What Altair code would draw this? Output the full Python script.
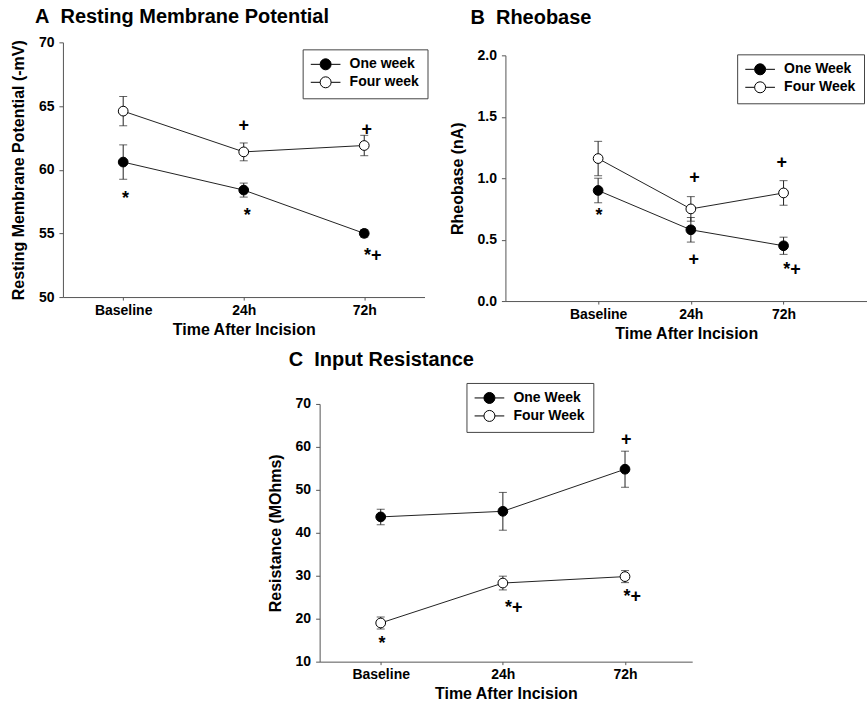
import altair as alt
import pandas as pd

FONT = "Liberation Sans"

categories = ["Baseline", "24h", "72h"]
x_index = [0, 1, 2]

# Panel A: Resting membrane potential (-mV)
a_series = ["One week", "Four week"]
a_one_mean = [60.6, 58.4, 55.0]
a_one_err = [1.35, 0.55, 0.3]
a_four_mean = [64.6, 61.4, 61.9]
a_four_err = [1.15, 0.7, 0.8]
a_ann_x = [0.02, 1.03, 2.07, 1.0, 2.02]
a_ann_y = [57.7, 56.4, 53.2, 63.4, 63.1]
a_ann_t = ["*", "*", "*+", "+", "+"]

# Panel B: Rheobase (nA)
b_series = ["One Week", "Four Week"]
b_one_mean = [0.90, 0.58, 0.45]
b_one_err = [0.10, 0.10, 0.07]
b_four_mean = [1.16, 0.75, 0.88]
b_four_err = [0.14, 0.10, 0.10]
b_ann_x = [0.01, 1.04, 1.03, 1.98, 2.09]
b_ann_y = [0.69, 1.00, 0.335, 1.127, 0.25]
b_ann_t = ["*", "+", "+", "+", "*+"]

# Panel C: Input resistance (MOhms)
c_series = ["One Week", "Four Week"]
c_one_mean = [43.7, 45.0, 54.8]
c_one_err = [1.8, 4.4, 4.2]
c_four_mean = [19.0, 28.3, 29.8]
c_four_err = [1.4, 1.6, 1.4]
c_ann_x = [0.01, 1.09, 2.06, 2.01]
c_ann_y = [14.0, 22.6, 25.1, 61.6]
c_ann_t = ["*", "*+", "*+", "+"]

label_expr = "[" + ",".join("'%s'" % c for c in categories) + "][datum.value]"

SYMBOL = "M-2.7,0L-1,0M1,0L2.7,0M1,0A1,1,0,1,1,-1,0A1,1,0,1,1,1,0Z"


def panel(series, one_m, one_e, four_m, four_e, ann_x, ann_y, ann_t,
          ydomain, yrange, yvalues, yfmt, ytitle, xdomain, width, height,
          title, title_dx, title_offset, leg_x, leg_y):
    rows = []
    for name, means, errs in ((series[0], one_m, one_e), (series[1], four_m, four_e)):
        for xi, m, e in zip(x_index, means, errs):
            rows.append({"series": name, "xi": xi, "mean": m, "lo": m - e, "hi": m + e})
    df = pd.DataFrame(rows)
    ann = pd.DataFrame({"xi": ann_x, "yv": ann_y, "t": ann_t})

    xs = alt.Scale(domain=xdomain, nice=False, zero=False)
    ys = alt.Scale(domain=ydomain, range=yrange, nice=False, zero=False)
    x = alt.X("xi:Q", scale=xs,
              axis=alt.Axis(values=x_index, labelExpr=label_expr,
                            title="Time After Incision", tickSize=3))
    y = alt.Y("mean:Q", scale=ys,
              axis=alt.Axis(values=yvalues, format=yfmt, title=ytitle, tickSize=4,
                            labelPadding=5, titlePadding=12))

    base = alt.Chart(df)
    line = base.mark_line(color="#222", strokeWidth=1).encode(x=x, y=y, detail="series:N")
    err = base.mark_rule(color="#222", strokeWidth=1).encode(
        x=x, y=alt.Y("lo:Q", scale=ys), y2="hi:Q")
    cap_lo = base.mark_tick(orient="horizontal", size=8, thickness=1, color="#222").encode(
        x=x, y=alt.Y("lo:Q", scale=ys))
    cap_hi = base.mark_tick(orient="horizontal", size=8, thickness=1, color="#222").encode(
        x=x, y=alt.Y("hi:Q", scale=ys))
    pts = base.mark_point(shape="circle", filled=True, size=95, stroke="black",
                          strokeWidth=1, opacity=1).encode(
        x=x, y=y,
        fill=alt.Fill("series:N",
                      scale=alt.Scale(domain=series, range=["black", "white"]),
                      legend=alt.Legend(title=None, orient="none", legendX=leg_x, legendY=leg_y,
                                        symbolType=SYMBOL, symbolSize=121,
                                        symbolStrokeColor="black", symbolStrokeWidth=1,
                                        symbolOffset=8, labelOffset=17,
                                        labelFont=FONT, labelFontSize=14,
                                        labelFontWeight="bold", labelColor="black",
                                        padding=8, rowPadding=2,
                                        strokeColor="#444", fillColor="white")))
    txt = alt.Chart(ann).mark_text(font=FONT, fontSize=18, fontWeight="bold",
                                   baseline="middle", color="black").encode(
        x=alt.X("xi:Q", scale=xs), y=alt.Y("yv:Q", scale=ys), text="t:N")

    return alt.layer(line, err, cap_lo, cap_hi, pts, txt).properties(
        width=width, height=height,
        title=alt.TitleParams(title, anchor="start", frame="group", dx=title_dx,
                              offset=title_offset, font=FONT, fontSize=20,
                              fontWeight="bold", color="black"))


chart_a = panel(a_series, a_one_mean, a_one_err, a_four_mean, a_four_err,
                a_ann_x, a_ann_y, a_ann_t,
                [50, 70], [255, 0], [50, 55, 60, 65, 70], "d",
                "Resting Membrane Potential (-mV)",
                [-0.5, 2.5], 362, 255, "A\u00a0\u00a0Resting Membrane Potential", -28, 8, 240, 7)
chart_b = panel(b_series, b_one_mean, b_one_err, b_four_mean, b_four_err,
                b_ann_x, b_ann_y, b_ann_t,
                [0, 2], [259, 13], [0, 0.5, 1.0, 1.5, 2.0], ".1f", "Rheobase (nA)",
                [-1.0, 2.9], 362, 259, "B\u00a0\u00a0Rheobase", -35, 14, 232, 12)
chart_c = panel(c_series, c_one_mean, c_one_err, c_four_mean, c_four_err,
                c_ann_x, c_ann_y, c_ann_t,
                [10, 70], [258, 0], [10, 20, 30, 40, 50, 60, 70], "d", "Resistance (MOhms)",
                [-0.5, 2.55], 373, 258, "C\u00a0\u00a0Input Resistance", -31, 12, 147, -21)

spacer = alt.Chart(pd.DataFrame({"a": [0]})).mark_point(opacity=0).encode(
    x=alt.value(0), y=alt.value(0)).properties(width=204, height=10)

top = alt.hconcat(chart_a, chart_b, spacing=20).resolve_scale(fill="independent")
bottom = alt.hconcat(spacer, chart_c, spacing=0).resolve_scale(fill="independent")

chart = alt.vconcat(top, bottom, spacing=9).resolve_scale(fill="independent").properties(
    padding={"left": 10, "top": 7, "right": 0, "bottom": 0}
).configure_view(stroke=None).configure_axis(
    grid=False, domainColor="#555", tickColor="#555", labelColor="black",
    titleColor="black", labelFont=FONT, titleFont=FONT, labelFontSize=14,
    titleFontSize=16, labelFontWeight="bold", titleFontWeight="bold",
    labelPadding=2, titlePadding=6
).configure_axisX(labelPadding=3, titlePadding=4)

chart.save("out.html", embed_options={"renderer": "svg", "actions": False})
